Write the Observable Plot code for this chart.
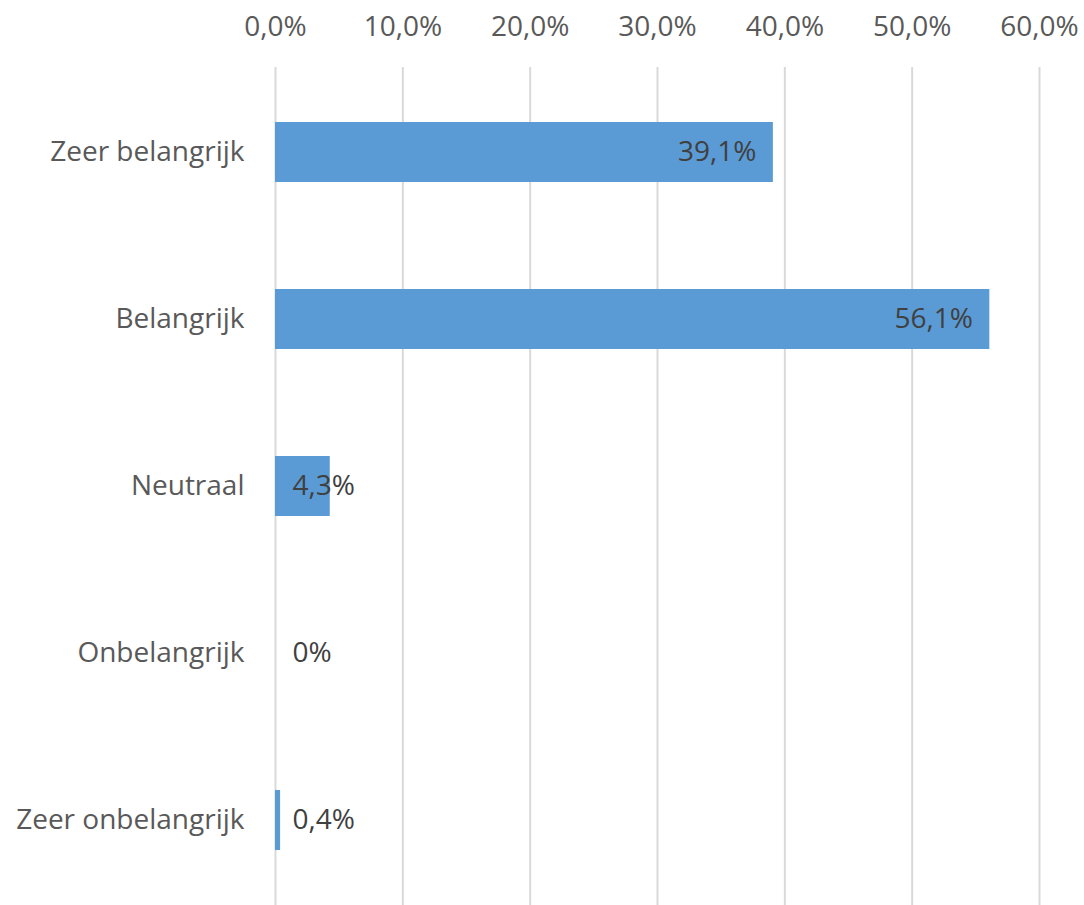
<!DOCTYPE html>
<html><head><meta charset="utf-8">
<script src="https://cdn.jsdelivr.net/npm/d3@7"></script>
<script src="https://cdn.jsdelivr.net/npm/@observablehq/plot@0.6"></script>
<style>body{margin:0;background:#fff}</style>
</head><body><div id="chart"></div>
<script>
const categories = ["Zeer belangrijk", "Belangrijk", "Neutraal", "Onbelangrijk", "Zeer onbelangrijk"];
const values = [39.1, 56.1, 4.3, 0, 0.4];
const valueLabels = ["39,1%", "56,1%", "4,3%", "0%", "0,4%"];
const xTicks = [0, 10, 20, 30, 40, 50, 60];
const xTickLabels = ["0,0%", "10,0%", "20,0%", "30,0%", "40,0%", "50,0%", "60,0%"];

const data = categories.map((c, i) => ({category: c, value: values[i], label: valueLabels[i]}));
const inside = data.filter(d => d.value >= 10);
const outside = data.filter(d => d.value < 10);

const chart = Plot.plot({
  width: 1084, height: 905,
  marginTop: 67, marginBottom: 0, marginLeft: 275, marginRight: 45,
  style: {fontFamily: "'Open Sans', sans-serif", fontSize: "28px", background: "#fff", color: "#595959"},
  x: {domain: [0, 60], label: null},
  y: {domain: categories, paddingInner: 0.643, paddingOuter: 0.3215, label: null},
  marks: [
    Plot.gridX(xTicks, {stroke: "#d9d9d9", strokeWidth: 2, strokeOpacity: 1}),
    Plot.axisX(xTicks, {anchor: "top", tickSize: 0, tickPadding: 32, label: null,
      tickFormat: d => xTickLabels[xTicks.indexOf(d)], fill: "#595959", fontSize: 28}),
    Plot.axisY({tickSize: 0, tickPadding: 31, label: null, fill: "#595959", fontSize: 28}),
    Plot.barX(data, {x: "value", y: "category", fill: "#5b9bd5"}),
    Plot.text(inside, {x: "value", y: "category", text: "label", textAnchor: "end", dx: -17, fill: "#404040", fontSize: 28}),
    Plot.text(outside, {x: 0, y: "category", text: "label", textAnchor: "start", dx: 17, fill: "#404040", fontSize: 28})
  ]
});
document.getElementById("chart").append(chart);
</script>
</body></html>
